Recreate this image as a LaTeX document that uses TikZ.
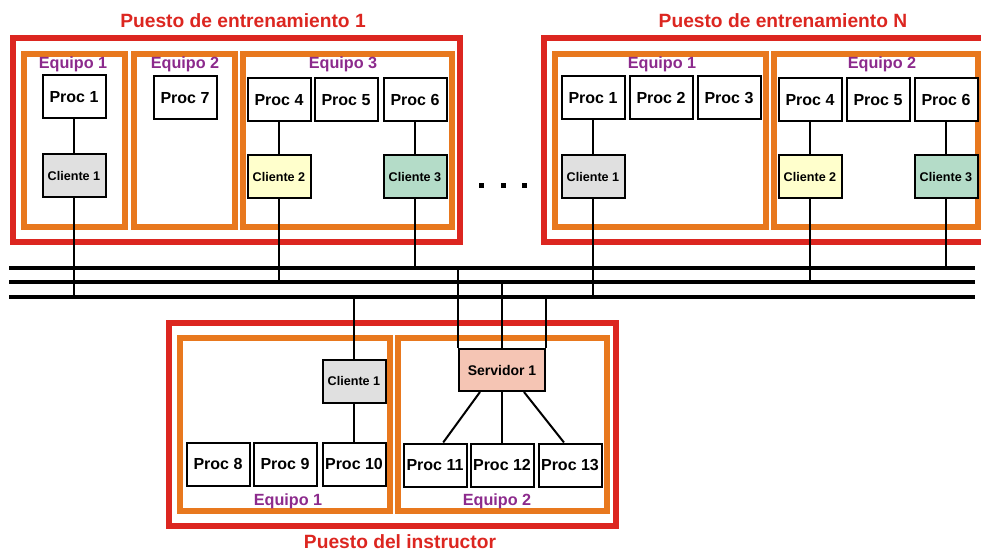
\documentclass[tikz,border=0pt]{standalone}
\usepackage{fontspec}
\setsansfont{Liberation Sans}
\usepackage{tikz}

\definecolor{rojo}{RGB}{220,38,32}
\definecolor{naranja}{RGB}{232,120,30}
\definecolor{morado}{RGB}{140,42,140}
\definecolor{gris}{RGB}{224,224,224}
\definecolor{amarillo}{RGB}{255,255,204}
\definecolor{verde}{RGB}{180,220,200}
\definecolor{salmon}{RGB}{245,197,180}

\begin{document}
\begin{tikzpicture}[x=0.5pt,y=-0.5pt,
  proc/.style={draw,line width=1pt,fill=white,minimum width=31.5pt,minimum height=21.5pt,inner sep=0pt,font=\sffamily\bfseries\fontsize{8}{9}\selectfont},
  cli/.style={proc,font=\sffamily\bfseries\fontsize{6.3}{7}\selectfont},
  puesto/.style={draw=rojo,line width=2.6pt},
  equipo/.style={draw=naranja,line width=2.6pt},
  titulo/.style={text=rojo,font=\sffamily\bfseries\fontsize{9.6}{11}\selectfont},
  etiq/.style={text=morado,font=\sffamily\bfseries\fontsize{8.1}{9}\selectfont},
  cable/.style={line width=1pt},
  bus/.style={line width=1.6pt}]
  \useasboundingbox (0,0) rectangle (981,551);
  \clip (0,0) rectangle (981,551);

     \draw[puesto] (13,38) rectangle (460,242);
     \draw[puesto] (544,38) rectangle (995,242);
     \draw[puesto] (169,323) rectangle (616,526);
     \draw[equipo] (24,54) rectangle (125,227);
     \draw[equipo] (134,54) rectangle (235,227);
     \draw[equipo] (243,54) rectangle (452,227);
     \draw[equipo] (555,54) rectangle (766,227);
     \draw[equipo] (774,54) rectangle (978,227);
     \draw[equipo] (180,338) rectangle (390,511);
     \draw[equipo] (398,338) rectangle (607,511);

      \node[titulo] (t1) at (243,21) {Puesto de entrenamiento 1};
      \node[titulo] (tN) at (783,21) {Puesto de entrenamiento N};
      \node[titulo] (ti) at (400,542) {Puesto del instructor};
      \node[etiq] (e11) at (73,64) {Equipo 1};
      \node[etiq] (e12) at (185,64) {Equipo 2};
      \node[etiq] (e13) at (343,64) {Equipo 3};
      \node[etiq] (eN1) at (662,64) {Equipo 1};
      \node[etiq] (eN2) at (882,64) {Equipo 2};
      \node[etiq] (ei1) at (288,501) {Equipo 1};
      \node[etiq] (ei2) at (497,501) {Equipo 2};

      \node[proc] (p1) at (74,97) {Proc 1};
      \node[proc] (p7) at (185,98) {Proc 7};
      \node[proc] (p4) at (279,100) {Proc 4};
      \node[proc] (p5) at (346,100) {Proc 5};
      \node[proc] (p6) at (415,100) {Proc 6};
      \node[cli,fill=gris] (c1) at (74,176) {Cliente 1};
      \node[cli,fill=amarillo] (c2) at (279,177) {Cliente 2};
      \node[cli,fill=verde] (c3) at (415,177) {Cliente 3};

      \node[proc] (n1) at (593,98) {Proc 1};
      \node[proc] (n2) at (661,98) {Proc 2};
      \node[proc] (n3) at (729,98) {Proc 3};
      \node[proc] (n4) at (810,100) {Proc 4};
      \node[proc] (n5) at (878,100) {Proc 5};
      \node[proc] (n6) at (946,100) {Proc 6};
      \node[cli,fill=gris] (d1) at (593,177) {Cliente 1};
      \node[cli,fill=amarillo] (d2) at (810,177) {Cliente 2};
      \node[cli,fill=verde] (d3) at (946,177) {Cliente 3};

      \node[cli,fill=gris] (i1) at (354,381) {Cliente 1};
      \node[proc,fill=salmon,minimum width=43pt,minimum height=21pt,font=\sffamily\bfseries\fontsize{7}{8}\selectfont] (srv) at (502,370) {Servidor 1};
      \node[proc] (p8) at (218,464) {Proc 8};
      \node[proc] (p9) at (285,464) {Proc 9};
      \node[proc] (p10) at (354,464) {Proc 10};
      \node[proc] (p11) at (435,465) {Proc 11};
      \node[proc] (p12) at (502,465) {Proc 12};
      \node[proc] (p13) at (570,465) {Proc 13};

      \fill (478.5,183.5) rectangle (483.5,188.5);
      \fill (500.5,183.5) rectangle (505.5,188.5);
      \fill (521.5,183.5) rectangle (526.5,188.5);

      \coordinate (b1w) at (9,268); \coordinate (b1e) at (975,268);
      \coordinate (b2w) at (9,282); \coordinate (b2e) at (975,282);
      \coordinate (b3w) at (9,297); \coordinate (b3e) at (975,297);
    \draw[bus] (b1w) -- (b1e);
    \draw[bus] (b2w) -- (b2e);
    \draw[bus] (b3w) -- (b3e);

    \draw[cable] (p1) -- (c1);
    \draw[cable] (p4) -- (c2);
    \draw[cable] (p6) -- (c3);
    \draw[cable] (n1) -- (d1);
    \draw[cable] (n4) -- (d2);
    \draw[cable] (n6) -- (d3);
    \draw[cable] (c1.south) -- (c1.south |- b3w);
    \draw[cable] (c2.south) -- (c2.south |- b2w);
    \draw[cable] (c3.south) -- (c3.south |- b1w);
    \draw[cable] (d1.south) -- (d1.south |- b3w);
    \draw[cable] (d2.south) -- (d2.south |- b2w);
    \draw[cable] (d3.south) -- (d3.south |- b1w);
    \draw[cable] (i1.north) -- (i1.north |- b3w);
    \draw[cable] (i1) -- (p10);
    \draw[cable] (srv.north west) -- (srv.north west |- b1w);
    \draw[cable] (srv.north) -- (srv.north |- b2w);
    \draw[cable] (srv.north east) -- (srv.north east |- b3w);
    \draw[cable] (srv.-135) -- (p11.70);
    \draw[cable] (srv) -- (p12);
    \draw[cable] (srv.-45) -- (p13.105);
\end{tikzpicture}
\end{document}
